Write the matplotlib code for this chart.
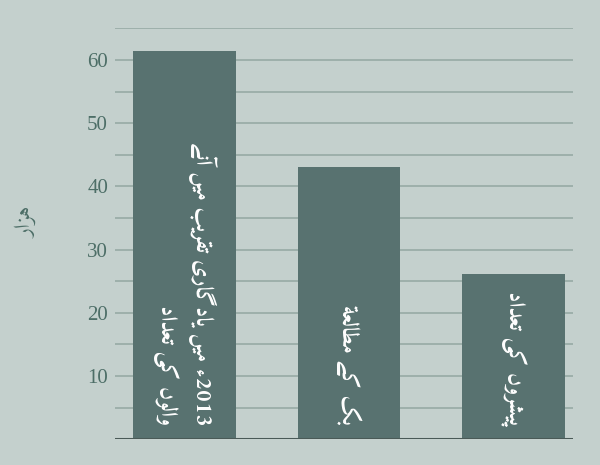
import re
import matplotlib
matplotlib.use("Agg")
import matplotlib.pyplot as plt

categories = ["2013ء میں یادگاری تقریب میں آنے\nوالوں کی تعداد", "بک کے مطالعۃ", "پیشروں کی تعداد"]
values = [61.4, 43.0, 26.1]
y_ticks = [10, 20, 30, 40, 50, 60]
y_label = "ہزار"

# presentation forms: isolated, final, initial, medial
FORMS = {
    "\u0621": ("\uFE80",),
    "\u0622": ("\uFE81", "\uFE82"),
    "\u0627": ("\uFE8D", "\uFE8E"),
    "\u0628": ("\uFE8F", "\uFE90", "\uFE91", "\uFE92"),
    "\u0629": ("\uFE93", "\uFE94"),
    "\u06C3": ("\uFE93", "\uFE94"),
    "\u062A": ("\uFE95", "\uFE96", "\uFE97", "\uFE98"),
    "\u062F": ("\uFEA9", "\uFEAA"),
    "\u0631": ("\uFEAD", "\uFEAE"),
    "\u0632": ("\uFEAF", "\uFEB0"),
    "\u0634": ("\uFEB5", "\uFEB6", "\uFEB7", "\uFEB8"),
    "\u0637": ("\uFEC1", "\uFEC2", "\uFEC3", "\uFEC4"),
    "\u0639": ("\uFEC9", "\uFECA", "\uFECB", "\uFECC"),
    "\u0642": ("\uFED5", "\uFED6", "\uFED7", "\uFED8"),
    "\u0644": ("\uFEDD", "\uFEDE", "\uFEDF", "\uFEE0"),
    "\u0645": ("\uFEE1", "\uFEE2", "\uFEE3", "\uFEE4"),
    "\u0646": ("\uFEE5", "\uFEE6", "\uFEE7", "\uFEE8"),
    "\u0648": ("\uFEED", "\uFEEE"),
    "\u067E": ("\uFB56", "\uFB57", "\uFB58", "\uFB59"),
    "\u06A9": ("\uFB8E", "\uFB8F", "\uFB90", "\uFB91"),
    "\u0643": ("\uFB8E", "\uFB8F", "\uFB90", "\uFB91"),
    "\u06AF": ("\uFB92", "\uFB93", "\uFB94", "\uFB95"),
    "\u06BA": ("\uFB9E", "\uFB9F"),
    "\u06C1": ("\uFBA6", "\uFBA7", "\uFBA8", "\uFBA9"),
    "\u0647": ("\uFBA6", "\uFBA7", "\uFBA8", "\uFBA9"),
    "\u06D2": ("\uFBAE", "\uFBAF"),
    "\u06CC": ("\uFBFC", "\uFBFD", "\uFBFE", "\uFBFF"),
    "\u064A": ("\uFBFC", "\uFBFD", "\uFBFE", "\uFBFF"),
}


def shape(line):
    out = []
    for i, ch in enumerate(line):
        f = FORMS.get(ch)
        if f is None or len(f) == 1:
            out.append(f[0] if f else ch)
            continue
        prev = line[i - 1] if i > 0 else ""
        nxt = line[i + 1] if i + 1 < len(line) else ""
        join_prev = len(FORMS.get(prev, ())) == 4
        join_next = len(f) == 4 and len(FORMS.get(nxt, ())) > 1
        if join_prev and join_next:
            out.append(f[3])
        elif join_prev:
            out.append(f[1])
        elif join_next:
            out.append(f[2])
        else:
            out.append(f[0])
    runs = re.findall(r"[0-9]+|[^0-9]", "".join(out))
    return "".join(reversed(runs))


def urdu(text):
    return "\n".join(shape(l) for l in text.split("\n"))


bg = "#c4d0cd"
bar_color = "#587270"
grid_color = "#9db0ab"
text_color = "#4d6e67"
urdu_fonts = ["Amiri", "DejaVu Sans"]

fig = plt.figure(figsize=(6, 4.65), dpi=100, facecolor=bg)
ax = fig.add_axes([115 / 600, 25.8 / 465, 458 / 600, 410.8 / 465])
ax.set_facecolor(bg)

x = list(range(len(values)))
ax.bar(x, values, width=0.625, color=bar_color, zorder=2)
ax.set_xlim(-0.424, 2.363)
ax.set_ylim(0, 65)

ax.set_yticks(y_ticks)
ax.set_yticks([5, 15, 25, 35, 45, 55, 65], minor=True)
ax.yaxis.grid(True, which="both", color=grid_color, lw=1.4, zorder=1)
ax.set_axisbelow(True)
ax.tick_params(axis="y", which="both", length=0, pad=5, labelsize=15, labelcolor=text_color)
for lbl in ax.get_yticklabels():
    lbl.set_family("Liberation Serif")
ax.set_xticks([])
for s in ax.spines.values():
    s.set_visible(False)
ax.axhline(0, color="#4a5a57", lw=2.2, zorder=3)

for xi, cat in zip(x, categories):
    ax.text(xi, 2.2, urdu(cat), rotation=-90, ha="center", va="bottom",
            multialignment="right", color="white", fontsize=16.5, fontweight="bold",
            family=urdu_fonts, linespacing=1.5, zorder=4)

fig.text(28 / 600, 1 - 222 / 465, urdu(y_label), rotation=90, ha="center", va="center",
         color=text_color, fontsize=16, family=urdu_fonts)

fig.savefig("out.png", dpi=100, facecolor=bg)
